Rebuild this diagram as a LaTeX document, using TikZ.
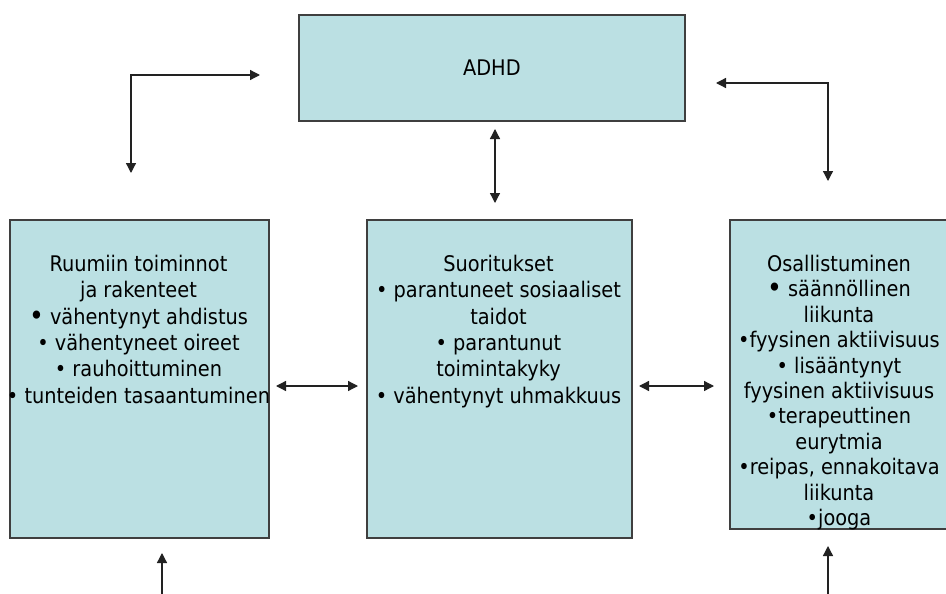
\documentclass[tikz,border=0pt]{standalone}
\usepackage{fontspec}
\setmainfont{DejaVu Sans Condensed}
\usetikzlibrary{arrows.meta}
\definecolor{boxfill}{HTML}{BBE0E3}
\definecolor{boxline}{HTML}{3F3F3F}
\definecolor{wire}{HTML}{222222}
\newcommand{\bigdot}{{\fontsize{28}{26}\selectfont\raisebox{-1pt}{•}}}
\begin{document}
\begin{tikzpicture}[x=1pt,y=-1pt,
  panel/.style={draw=boxline, line width=1.8pt, fill=boxfill, rectangle,
    inner sep=0pt, anchor=north west, font=\fontsize{21.5}{26}\selectfont},
  panetext/.style={anchor=north, align=center, inner sep=0pt,
    font=\fontsize{21.5}{26.3}\selectfont},
  link/.style={draw=wire, line width=1.3pt,
    {Triangle[length=10pt,width=10pt]}-{Triangle[length=10pt,width=10pt]}},
  feed/.style={draw=wire, line width=1.3pt, -{Triangle[length=10pt,width=10pt]}}]

\useasboundingbox (0,0) rectangle (946,594);
\clip (0,0) rectangle (946,594);
\fill[white] (0,0) rectangle (946,594);

% boxes
\node[panel, minimum width=386pt, minimum height=106pt] (adhd) at (298,14) {ADHD};
\node[panel, minimum width=259pt, minimum height=318pt] (body) at (9,219) {};
\node[panel, minimum width=265pt, minimum height=318pt] (acts) at (366,219) {};
\node[panel, minimum width=222pt, minimum height=309pt] (part) at (729,219) {};

% box contents
\node[panetext] (bodytext) at (138.5,255) {Ruumiin toiminnot\\ja rakenteet\\
  \bigdot\ vähentynyt ahdistus\\• vähentyneet oireet\\• rauhoittuminen\\
  • tunteiden tasaantuminen};
\node[panetext] (actstext) at (498.5,255) {Suoritukset\\• parantuneet sosiaaliset\\
  taidot\\• parantunut\\toimintakyky\\• vähentynyt uhmakkuus};
\node[panetext, font=\fontsize{21.5}{25.4}\selectfont] (parttext) at (839,255)
  {Osallistuminen\\\bigdot\ säännöllinen\\liikunta\\•fyysinen aktiivisuus\\
  • lisääntynyt\\fyysinen aktiivisuus\\•terapeuttinen\\eurytmia\\
  •reipas, ennakoitava\\liikunta\\•jooga};

% connector end points
\coordinate (lvert) at (131,173);
\coordinate (lhor)  at (260,75);
\coordinate (rhor)  at (716,83);
\coordinate (rvert) at (828,181);
\coordinate (ctop)  at (495,129);
\coordinate (cbot)  at (495,203);
\coordinate (lmA)   at (276,386);
\coordinate (lmB)   at (358,386);
\coordinate (mrA)   at (639,386);
\coordinate (mrB)   at (714,386);
\coordinate (lin0)  at (162,600);
\coordinate (lin1)  at (162,553);
\coordinate (rin0)  at (828,600);
\coordinate (rin1)  at (828,546);

% connectors
\draw[link] (lvert) |- (lhor);
\draw[link] (rhor) -| (rvert);
\draw[link] (ctop) -- (cbot);
\draw[link] (lmA) -- (lmB);
\draw[link] (mrA) -- (mrB);
\draw[feed] (lin0) -- (lin1);
\draw[feed] (rin0) -- (rin1);
\end{tikzpicture}
\end{document}
